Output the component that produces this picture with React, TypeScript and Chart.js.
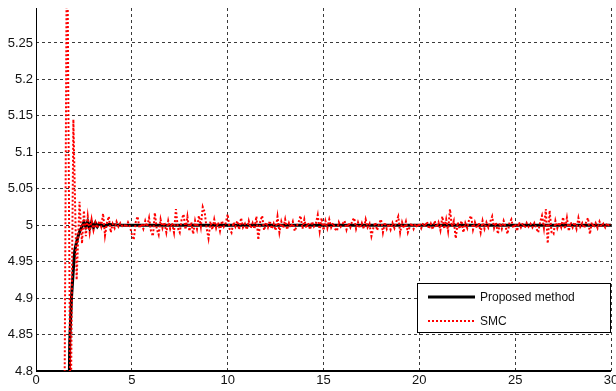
import React, { useEffect, useRef } from "react";
import { Chart, registerables } from "chart.js";

Chart.register(...registerables);

const xTicks = [0, 5, 10, 15, 20, 25, 30];
const yTicks = [4.8, 4.85, 4.9, 4.95, 5, 5.05, 5.1, 5.15, 5.2, 5.25];

const proposedLabel = "Proposed method";
const smcLabel = "SMC";

const proposedT = [1.7, 1.76, 1.85, 1.95, 2.02, 2.1, 2.2, 2.3, 2.4, 2.5, 2.6, 2.7, 2.8, 2.9, 3.0, 3.1, 3.2, 3.3, 3.5, 3.8, 4.5, 30];
const proposedY = [4.7, 4.84, 4.9, 4.94, 4.965, 4.975, 4.985, 4.993, 4.998, 5.004, 4.998, 5.005, 4.996, 5.004, 4.997, 5.003, 4.998, 5.002, 4.999, 5.001, 5.0, 5.0];

const smcTransientT = [1.47, 1.62, 1.8, 1.95, 2.12, 2.27, 2.4, 2.5];
const smcTransientY = [4.65, 5.45, 4.7, 5.145, 4.925, 5.032, 4.975, 5.02];

const smcSteadyStart = 2.6;
const smcSteadyStep = 0.1;
const smcSteadyY = [
  4.985, 5.012, 4.99, 5.008,
  4.993, 5.004, 4.996, 5.006, 4.998, 5.016, 4.986, 5.003, 5.012, 4.99,
  5.002, 4.996, 5.005, 4.998, 5.003, 4.999, 5.001, 4.997, 5.004, 4.998,
  4.988, 4.98, 5.004, 5.012, 4.996, 5.002, 4.995, 5.006, 4.998, 5.01,
  4.992, 4.985, 5.017, 4.995, 4.987, 5.008, 4.996, 5.004, 4.99, 5.006,
  4.995, 5.003, 4.99, 5.022, 4.996, 4.99, 5.008, 5.015, 4.994, 5.012,
  4.992, 5.004, 4.988, 5.006, 4.995, 5.013, 4.998, 5.025, 5.018, 4.996,
  4.982, 5.005, 4.994, 5.008, 4.996, 5.004, 4.992, 5.006, 4.998, 5.003,
  5.015, 4.995, 4.99, 5.004, 4.998, 5.006, 4.994, 5.01, 4.997, 5.002,
  4.994, 5.006, 4.996, 5.003, 4.995, 5.012, 4.98, 5.005, 5.013, 4.993,
  5.004, 4.997, 5.006, 4.995, 5.002, 4.993, 5.012, 4.99, 5.005, 4.996,
  5.008, 4.994, 5.003, 4.997, 5.005, 4.992, 4.999, 5.004, 5.013, 4.995,
  5.008, 4.996, 5.003, 4.994, 5.005, 4.998, 5.002, 5.014, 4.992, 5.01,
  4.993, 5.006, 4.996, 5.008, 4.997, 5.003, 4.995, 4.992, 5.004, 4.998,
  5.002, 5.006, 4.994, 5.003, 4.997, 5.006, 5.01, 4.995, 5.004, 4.996,
  5.003, 4.995, 5.008, 4.997, 5.002, 4.985, 4.996, 5.004, 4.993, 5.002,
  5.008, 4.99, 5.004, 4.995, 5.002, 4.994, 5.003, 4.996, 5.005, 5.012,
  4.99, 5.004, 4.996, 5.005, 4.99, 4.998, 5.003, 4.995, 5.002, 4.997,
  5.003, 4.996, 5.003, 4.998, 5.005, 4.995, 5.002, 4.994, 5.006, 4.997,
  5.004, 4.993, 5.012, 4.995, 5.008, 4.992, 5.022, 4.998, 5.006, 4.982,
  5.004, 4.995, 5.006, 4.99, 5.003, 4.996, 5.008, 5.013, 4.994, 5.004,
  4.996, 5.003, 4.99, 5.006, 4.995, 5.004, 4.997, 5.005, 5.012, 4.996,
  5.004, 4.988, 5.003, 4.995, 5.006, 4.998, 4.988, 5.003, 5.008, 4.996,
  5.002, 4.992, 5.004, 4.997, 5.003, 4.996, 5.003, 4.998, 5.002, 4.997,
  5.003, 4.996, 4.99, 5.004, 5.013, 4.996, 5.022, 4.975, 5.02, 4.99,
  4.988, 5.006, 4.996, 5.004, 4.997, 5.011, 4.995, 5.01, 4.992, 5.004,
  4.997, 5.004, 4.995, 5.01, 4.998, 5.003, 4.996, 5.004, 5.01, 4.988,
  5.004, 4.997, 5.003, 4.996, 5.005, 4.998, 5.002, 4.997, 5.003, 4.999,
  5.001,
];

const FONT = "'Liberation Sans', Arial, sans-serif";

const legendPlugin = {
  id: "boxLegend",
  afterDraw(chart: any) {
    const { ctx, chartArea } = chart;
    const w = 194;
    const h = 50;
    const right = chartArea.right;
    const bottom = chartArea.bottom - 38;
    const left = right - w;
    const top = bottom - h;
    ctx.save();
    ctx.fillStyle = "#ffffff";
    ctx.fillRect(left, top, w, h);
    ctx.strokeStyle = "#000000";
    ctx.lineWidth = 1;
    ctx.setLineDash([]);
    ctx.strokeRect(left + 0.5, top + 0.5, w - 1, h - 1);
    const ds = chart.data.datasets;
    const rows = [ds[1], ds[0]];
    rows.forEach((d: any, i: number) => {
      const y = top + 14 + i * 24;
      ctx.beginPath();
      ctx.strokeStyle = d.borderColor;
      ctx.lineWidth = d.borderWidth;
      ctx.setLineDash(d.borderDash || []);
      ctx.moveTo(left + 11, y);
      ctx.lineTo(left + 58, y);
      ctx.stroke();
      ctx.setLineDash([]);
      ctx.fillStyle = "#111111";
      ctx.font = `12px ${FONT}`;
      ctx.textBaseline = "middle";
      ctx.textAlign = "left";
      ctx.fillText(d.label, left + 63, y + 1);
    });
    ctx.restore();
  },
};

// solid left and bottom axis lines, drawn over the dashed grid
const axisLinesPlugin = {
  id: "axisLines",
  beforeDatasetsDraw(chart: any) {
    const { ctx, chartArea } = chart;
    ctx.save();
    ctx.setLineDash([]);
    ctx.strokeStyle = "#000000";
    ctx.lineWidth = 1;
    ctx.beginPath();
    ctx.moveTo(chartArea.left + 0.5, chartArea.top);
    ctx.lineTo(chartArea.left + 0.5, chartArea.bottom);
    ctx.stroke();
    ctx.lineWidth = 2;
    ctx.beginPath();
    ctx.moveTo(chartArea.left, chartArea.bottom);
    ctx.lineTo(chartArea.right, chartArea.bottom);
    ctx.stroke();
    ctx.restore();
  },
};

export default function App() {
  const canvasRef = useRef<HTMLCanvasElement | null>(null);

  useEffect(() => {
    const canvas = canvasRef.current;
    if (!canvas) return;
    const proposedData = proposedT.map((t, i) => ({ x: t, y: proposedY[i] }));
    const smcData = [
      ...smcTransientT.map((t, i) => ({ x: t, y: smcTransientY[i] })),
      ...smcSteadyY.map((v, i) => ({ x: smcSteadyStart + i * smcSteadyStep, y: v })),
    ];
    const chart = new Chart(canvas, {
      type: "line",
      data: {
        datasets: [
          {
            label: smcLabel,
            data: smcData,
            borderColor: "#ff0000",
            borderWidth: 2,
            borderDash: [2, 2],
            pointRadius: 0,
            tension: 0,
            fill: false,
            clip: 0,
            order: 1,
          },
          {
            label: proposedLabel,
            data: proposedData,
            borderColor: "#000000",
            borderWidth: 3,
            pointRadius: 0,
            tension: 0,
            fill: false,
            clip: 0,
            order: 2,
          },
        ],
      },
      options: {
        responsive: false,
        animation: false,
        layout: { padding: { top: 8, right: 5, left: 0, bottom: 0 } },
        plugins: {
          legend: { display: false },
          tooltip: { enabled: false },
        },
        scales: {
          x: {
            type: "linear",
            min: 0,
            max: 30,
            afterBuildTicks: (scale: any) => {
              scale.ticks = xTicks.map((v) => ({ value: v }));
            },
            afterFit: (scale: any) => {
              scale.height = 20;
              scale.paddingLeft = 0;
              scale.paddingRight = 0;
            },
            ticks: {
              autoSkip: false,
              maxRotation: 0,
              padding: 2,
              color: "#111111",
              font: { family: FONT, size: 13 },
              callback: (v: any) => String(v),
            },
            grid: {
              color: "#3a3a3a",
              lineWidth: 1,
              drawTicks: false,
            },
            border: { display: false, dash: [3, 3] },
          },
          y: {
            type: "linear",
            min: 4.8,
            max: 5.298,
            afterBuildTicks: (scale: any) => {
              scale.ticks = yTicks.map((v) => ({ value: v }));
            },
            afterFit: (scale: any) => {
              scale.width = 36;
              scale.paddingTop = 0;
              scale.paddingBottom = 0;
            },
            ticks: {
              autoSkip: false,
              padding: 3,
              color: "#111111",
              font: { family: FONT, size: 13 },
              callback: (v: any) => String(Number(Number(v).toFixed(2))),
            },
            grid: {
              color: "#3a3a3a",
              lineWidth: 1,
              drawTicks: false,
            },
            border: { display: false, dash: [3, 3] },
          },
        },
      },
      plugins: [axisLinesPlugin, legendPlugin],
    } as any);
    return () => chart.destroy();
  }, []);

  return (
    <div style={{ position: "absolute", left: 0, top: 0, width: 616, height: 391, background: "#ffffff" }}>
      <canvas ref={canvasRef} width={616} height={391} style={{ display: "block" }} />
    </div>
  );
}
